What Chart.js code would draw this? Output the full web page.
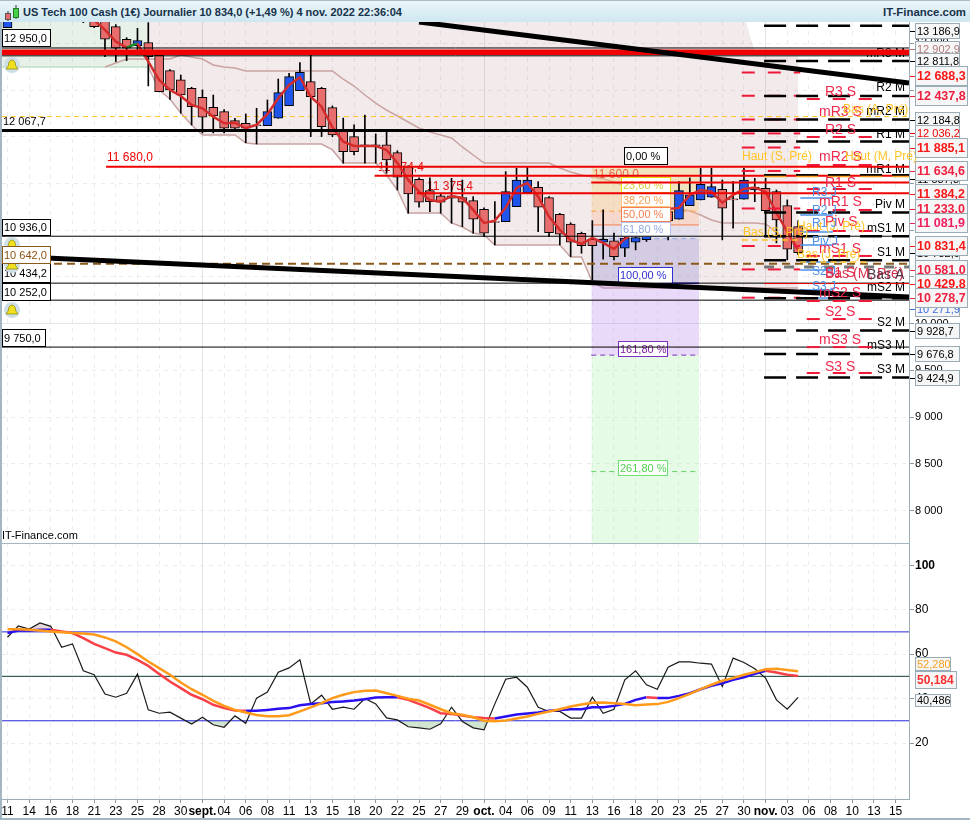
<!DOCTYPE html>
<html>
<head>
<meta charset="utf-8">
<title>US Tech 100 Cash</title>
<script src="https://cdn.jsdelivr.net/npm/chart.js@4/dist/chart.umd.min.js"></script>
<style>
  html, body { margin: 0; padding: 0; background: #fff; }
  #page { position: relative; width: 970px; height: 820px; overflow: hidden; font-family: "Liberation Sans", Arial, sans-serif; }
  #head { position: absolute; left: 0; top: 0; width: 970px; height: 22px; box-sizing: border-box; background: linear-gradient(#eaf5f9, #cfe7f1); border-top: 1px solid #a9bcc7; }
  #title { position: absolute; left: 23px; top: 5px; font-size: 11px; font-weight: bold; color: #17324a; white-space: nowrap; }
  #site { position: absolute; right: 4px; top: 5px; font-size: 11.4px; font-weight: bold; color: #17324a; }
  #icon { position: absolute; left: 2px; top: 2px; }
  canvas { position: absolute; left: 0; }
  #priceCanvas { top: 22px; }
  #rsiCanvas { top: 543px; }
  .frame { position: absolute; background: #a3b6c1; }
</style>
</head>
<body>
<div id="page">
  <canvas id="priceCanvas" width="970" height="521"></canvas>
  <canvas id="rsiCanvas" width="970" height="277"></canvas>
  <div id="head">
    <svg id="icon" width="20" height="19">
      <line x1="6" y1="8" x2="6" y2="18" stroke="#333"/><rect x="3.5" y="10.5" width="5" height="6" fill="#e86a6a" stroke="#555"/>
      <line x1="14" y1="2" x2="14" y2="16" stroke="#333"/><rect x="11.5" y="5.5" width="5" height="9" fill="#45d04a" stroke="#2a7a2a"/>
    </svg>
    <div id="title">US Tech 100 Cash (1€) Journalier 10 834,0 (+1,49 %) 4 nov. 2022 22:36:04</div>
    <div id="site">IT-Finance.com</div>
  </div>
  <div class="frame" style="left:0;top:22px;width:2px;height:798px"></div>
  <div class="frame" style="left:2px;top:543px;width:908px;height:1px"></div>
  <div class="frame" style="left:0;top:818px;width:970px;height:2px"></div>
</div>
<script>
// dates shown on the axis, one every two bars
const tickLabels = ['11','14','16','18','21','23','25','28','30','sept.','04','06','08','11','13','15','18','20','22','25','27','29','oct.','04','06','09','11','13','16','18','20','23','25','27','30','nov.','03','06','08','10','13','15'];
const monthLabels = ['sept.','oct.','nov.'];

const priceTicks = [8000,8500,9000,9500,10000,10500,11000,11500,12000,12500,13000];
const priceTickLabels = ['8 000','8 500','9 000','9 500','10 000','10 500','11 000','11 500','12 000','12 500','13 000'];
const rsiTicks = [20,40,60,80,100];

// daily candles
const barOpen = [13167,13420,13560,13640,13600,13700,13680,13500,13300,13290,13178,13043,12975,13007,12875,12707,12608,12519,12423,12316,12269,12172,12145,12127,12119,12198,12333,12493,12590,12519,12312,12073,12002,11913,11913,11913,11830,11681,11546,11424,11367,11367,11349,11317,11225,11094,11092,11253,11402,11460,11349,11171,11065,10968,10904,10872,10886,10808,10872,10900,11100,11200,11118,11263,11324,11353,11439,11335,11332,11431,11449,11413,11263,11039];
const barClose = [13330,13560,13640,13600,13700,13680,13500,13440,13178,13043,12947,12947,13028,12857,12483,12501,12447,12322,12209,12223,12091,12091,12091,12120,12269,12472,12643,12690,12429,12108,12020,11841,11841,11905,11905,11752,11567,11389,11300,11306,11300,11342,11300,11118,10968,11085,11413,11538,11538,11246,10975,10958,10872,10836,10836,10904,10718,10915,10921,11100,11200,11100,11424,11378,11492,11467,11235,11325,11538,11460,11210,11111,10797,10761];
const barHigh = [13380,13620,13700,13720,13760,13760,13700,13530,13340,13300,13200,13060,13161,13221,12890,12720,12661,12530,12501,12447,12290,12198,12244,12305,12394,12618,12679,12793,12893,12530,12330,12200,12127,12233,12030,12055,11850,11690,11560,11560,11396,11556,11538,11360,11240,11306,11627,11663,11681,11520,11360,11180,11080,10980,11103,11218,10971,11039,11100,11130,11220,11240,11520,11560,11663,11663,11538,11520,11663,11556,11556,11431,11325,11100];
const barLow = [13167,13380,13500,13540,13560,13600,13420,13221,13167,12857,12804,12814,12875,12544,12480,12401,12252,12127,12041,12041,12041,12073,11937,11923,12119,12198,12333,12493,12002,12002,12000,11717,11806,11717,11717,11610,11431,11182,11246,11200,11182,11075,11039,10968,10932,10843,11092,11253,11402,10985,10932,10843,10718,10754,10469,10690,10683,10718,10790,10880,11090,10897,11118,11263,11324,11353,10897,11022,11332,11306,10932,10865,10683,10740];

// moving average drawn over the candles, starts at bar 8
const priceMA = [13250,13143,13018,12953,13000,12804,12608,12501,12437,12340,12305,12215,12145,12151,12091,12127,12241,12412,12554,12637,12429,12322,12100,11948,11902,11902,11902,11859,11720,11538,11413,11324,11306,11367,11346,11218,11078,11103,11239,11453,11506,11360,11146,11004,10897,10854,10918,10865,10800,10907,10982,11111,11196,11228,11239,11378,11431,11413,11295,11378,11442,11456,11413,11185,10985,10790];

// channel, starts at bar 13
const bandTop = [13300,13300,13300,13300,13300,13300,13300,13300,13300,13300,13300,13300,13300,13300,13300,13300,13300,13300,13300,13300,13300,13300,13300,13300,13300,13300,13300,13300,13300,13300,13300,13300,13300,13300,13300,13300,13300,13300,13300,13300,13300,13300,13300,13300,13300,13300,13300,13300,13300,13300,13300,13300,13300,13300,13300,13300,12910,12910,12910,12910,12910];
const bandLow = [12747,12500,12404,12254,12126,12019,12019,12019,12019,11933,11923,11923,11923,11923,11923,11923,11923,11859,11719,11719,11719,11719,11591,11431,11185,11185,11185,11185,11078,11035,10971,10949,10842,10842,10842,10842,10842,10842,10842,10714,10714,10446,10382,10382,10382,10382,10382,10382,10382,10382,10382,10382,10382,10382,10382,10382,10382,10382,10382,10382,10382];
// inner channel line, starts at bar 9
const bandMid = [12747,12789,12832,12832,12832,12832,12832,12875,12854,12832,12768,12747,12736,12704,12704,12704,12704,12704,12704,12704,12704,12704,12618,12543,12447,12361,12286,12222,12158,12094,12051,12019,11987,11891,11805,11719,11719,11719,11719,11719,11719,11719,11666,11623,11591,11570,11548,11516,11473,11409,11345,11281,11238,11227,11206,11163,11110,11078,11078,11078,11078,11067,10981,10885,10821];

// levels
const channelEdge = 12747;
const thinLevels = [12950,12866,10936,10434.2,10252,9750];
const monthlyPivots = [13186.9,12811.8,12436,12184.8,11950,11587.8,11190,10936,10680,10271.9,9928.7,9676.8,9424.9];
const weeklyLeft = [12688.3,12437.8,12184,12036,11885.1,11634.6,11233,10831.4,10581,10278.7];
const weeklyRight = [12404,11998,11698,11441,11217,10992,10725,10243,10050,9750,9473];
const dailyLevels = [11345,11163,10981,10842,10660,10575,10361,10275];

// fibonacci retracement, 0 % to 261,8 %
const fibLevels = [11680,11386,11204,11057,10910,10434,9664,8418,7654];

// RSI panel
const rsiValues = [67.6,72.7,71.3,74.0,72.5,63.1,64.6,52.5,50.7,42.0,40.6,42.4,51.0,34.9,33.4,33.9,31.2,28.5,31.6,28.2,27.1,32.2,28.9,40.2,42.9,51.9,53.8,57.4,37.6,41.5,35.2,36.1,35.2,40.0,37.6,31.3,30.4,27.3,26.8,26.2,28.6,36.1,29.7,26.8,25.9,37.6,48.7,49.6,45.1,36.1,34.2,34.2,31.2,31.2,40.6,33.4,35.2,48.4,52.5,46.2,44.2,54.1,56.5,56.5,55.9,55.5,45.4,58.2,56.2,53.4,49.2,39.4,35.2,40.5];
const rsiAverage = [69.5,70.6,70.6,71.0,71.0,70.2,69.5,67.2,64.6,62.7,60.7,59.7,57.4,54.7,51.1,47.7,44.7,41.7,39.7,37.2,35.7,34.6,34.5,34.5,34.9,35.4,35.7,37.0,37.5,37.9,38.4,38.7,39.1,39.7,40.5,40.6,40.6,39.4,37.6,35.7,33.4,33.0,32.4,31.6,31.2,31.0,31.9,32.8,33.3,33.7,34.5,34.9,35.2,35.2,36.1,36.1,36.7,37.6,39.4,40.6,40.2,40.2,41.2,42.4,44.2,45.7,46.9,48.4,49.6,51.1,52.5,51.7,50.7,50.2];
const rsiSignal = [71.2,71.2,71.0,70.6,70.2,69.8,69.5,69.3,68.8,67.5,65.7,63.1,60.0,56.7,53.7,50.7,47.2,44.2,41.7,39.0,36.7,34.9,33.7,32.6,32.0,32.0,32.5,34.2,36.0,37.9,40.2,41.7,42.9,43.5,43.6,42.4,41.2,39.9,39.1,37.2,35.2,33.4,32.7,31.6,30.0,29.8,30.1,31.0,31.9,33.1,34.2,35.2,36.4,37.3,38.1,38.2,37.9,37.5,37.0,37.3,37.5,38.5,40.2,42.1,44.2,46.2,48.0,49.2,50.7,51.9,53.2,53.4,52.9,52.3];
const rsiLevels = [70,50,30];

const FONT = '"Liberation Sans", Arial, sans-serif';
const X_MIN = -0.508, X_MAX = 83.24;
const PIVOT_START = 69.86, FIB_START = 53.9, FIB_END = 63.85;
const CROSS_RED = '#f0284c';

Chart.defaults.font.family = FONT;
Chart.defaults.font.size = 11;
Chart.defaults.color = '#000';

function seriesFrom(values, first) {
  return values.map((v, k) => ({ x: first + k, y: v }));
}

function levelLine(value, x0, x1, color, width, dash) {
  return { type: 'line', data: [{ x: x0, y: value }, { x: x1, y: value }], borderColor: color, borderWidth: width, borderDash: dash || [], pointRadius: 0, fill: false };
}

function plainLine(points, color, width) {
  return { type: 'line', data: points, borderColor: color, borderWidth: width, pointRadius: 0, fill: false };
}

// the plot has to reach the canvas edge, labels may overhang
function noPadding(s) {
  s.paddingLeft = 0; s.paddingRight = 0; s.paddingTop = 0; s.paddingBottom = 0;
}

function xAxis(height, showLabels) {
  return {
    type: 'linear', min: X_MIN, max: X_MAX, offset: false,
    afterBuildTicks: s => { s.ticks = tickLabels.map((t, k) => ({ value: k * 2 })); },
    afterFit: s => { s.height = height; noPadding(s); },
    grid: { offset: false, color: ctx => (ctx.tick && monthLabels.includes(tickLabels[ctx.tick.value / 2])) ? '#e2e4e6' : '#ececec', tickColor: '#8a9aa4', tickLength: 4, drawTicks: showLabels },
    border: { display: showLabels, color: '#9aacb6', dash: ctx => (ctx.tick && monthLabels.includes(tickLabels[ctx.tick.value / 2])) ? [] : [4, 5] },
    ticks: {
      display: showLabels, autoSkip: false, maxRotation: 0, padding: 1, color: '#000',
      font: ctx => ({ family: FONT, size: 12, weight: (ctx.tick && monthLabels.includes(tickLabels[ctx.tick.value / 2])) ? 'bold' : 'normal' }),
      callback: (v, k) => tickLabels[k]
    }
  };
}

function boxLabel(ctx, text, x, y, w, h, border, color, font, bg) {
  ctx.fillStyle = bg || '#fff';
  ctx.fillRect(x, y, w, h);
  ctx.strokeStyle = border;
  ctx.lineWidth = 1;
  ctx.strokeRect(x + 0.5, y + 0.5, w - 1, h - 1);
  ctx.fillStyle = color;
  ctx.font = font;
  ctx.textAlign = 'left';
  ctx.textBaseline = 'middle';
  ctx.fillText(text, x + 2, y + h / 2 + 0.5);
}

function note(ctx, row, top) {
  ctx.fillStyle = row[3];
  ctx.font = row[4];
  ctx.textAlign = row[5] || 'left';
  ctx.textBaseline = 'middle';
  ctx.fillText(row[0], row[1], row[2] - top);
}

function bell(ctx, cx, cy) {
  ctx.beginPath(); ctx.arc(cx, cy, 8, 0, Math.PI * 2); ctx.fillStyle = '#cfdfe8'; ctx.fill();
  ctx.beginPath();
  ctx.moveTo(cx - 6, cy + 4); ctx.lineTo(cx + 6, cy + 4);
  ctx.quadraticCurveTo(cx + 3, cy + 1, cx + 3, cy - 3);
  ctx.quadraticCurveTo(cx, cy - 7, cx - 3, cy - 3);
  ctx.quadraticCurveTo(cx - 3, cy + 1, cx - 6, cy + 4);
  ctx.fillStyle = '#f0e020'; ctx.fill();
  ctx.strokeStyle = '#8a8400'; ctx.lineWidth = 0.7; ctx.stroke();
}

const TOP = 22;
const small = '11px ' + FONT, text12 = '12px ' + FONT, text14 = '14px ' + FONT, boldBox = 'bold 12.5px ' + FONT;
const gold = '#ffc425', sky = '#4a90e8';

// texts that lie under the candles and the lines
const underNotes = [
  ['11 680,0', 107, 158, '#f00000', text12], ['11 574,4', 378, 168, '#f00000', text12],
  ['11 375,4', 427, 187, '#f00000', text12], ['11 600,0', 593, 175, '#f00000', text12],
  ['mR3 M', 905, 54, '#000', text12, 'right'], ['R2 M', 905, 88, '#000', text12, 'right'],
  ['mR2 M', 905, 112, '#000', text12, 'right'], ['R1 M', 905, 135, '#000', text12, 'right'],
  ['mR1 M', 905, 170, '#000', text12, 'right'], ['Piv M', 905, 205, '#000', text12, 'right'],
  ['mS1 M', 905, 229, '#000', text12, 'right'], ['S1 M', 905, 253, '#000', text12, 'right'],
  ['mS2 M', 905, 288, '#000', text12, 'right'], ['S2 M', 905, 323, '#000', text12, 'right'],
  ['mS3 M', 905, 346, '#000', text12, 'right'], ['S3 M', 905, 370, '#000', text12, 'right']
];
// fibonacci tags, they cover the candles but not the levels
const fibTags = [
  ['0,00 %', 624, 147, 44, 18, '#000', '#000'], ['23,60 %', 621, 177, 50, 16, '#e8e000', '#dcc840'],
  ['38,20 %', 621, 193, 50, 14, '#ffc080', '#f5a050'], ['50,00 %', 621, 207, 50, 15, '#f58050', '#f08050'],
  ['61,80 %', 621, 222, 50, 15, '#b0c4f0', '#90a8e0'], ['100,00 %', 618, 267, 55, 17, '#3030d0', '#3030d0'],
  ['161,80 %', 618, 341, 50, 16, '#8030c0', '#8020a0'], ['261,80 %', 618, 460, 50, 16, '#70e070', '#50d050']
];
const overNotes = [
  ['R3 S', 825, 92, CROSS_RED, text14], ['mR3 S', 819, 112, CROSS_RED, text14], ['R2 S', 825, 130, CROSS_RED, text14],
  ['mR2 S', 819, 157, CROSS_RED, text14], ['R1 S', 825, 183, CROSS_RED, text14], ['mR1 S', 819, 202, CROSS_RED, text14],
  ['Piv S', 825, 222, CROSS_RED, text14], ['mS1 S', 819, 249, CROSS_RED, text14], ['S1 S', 825, 273, CROSS_RED, text14],
  ['mS2 S', 819, 293, CROSS_RED, text14], ['S2 S', 825, 312, CROSS_RED, text14], ['mS3 S', 819, 340, CROSS_RED, text14],
  ['S3 S', 825, 367, CROSS_RED, text14], ['Bas (A, Pré)', 843, 110, gold, text12], ['Haut (S, Pré)', 742, 157, gold, text12],
  ['Haut (M, Pré)', 845, 157, gold, text12], ['Bas (S, Pré)', 743, 233, gold, text12], ['Haut (J, Pré)', 797, 227, gold, text12],
  ['Bas (J, Pré)', 797, 255, gold, text12], ['R3 J', 812, 193, sky, text12], ['R2 J', 812, 211, sky, text12],
  ['R1 J', 812, 224, sky, text12], ['Piv J', 812, 242, sky, text12], ['S2 J', 812, 272, sky, text12], ['S3 J', 812, 287, sky, text12],
  ['Bas (M, Pré)', 825, 274, '#d8304c', text14], ['Bas A', 867, 275, '#553344', text14],
  ['12 067,7', 3, 122, '#000', small], ['IT-Finance.com', 2, 536, '#000', small]
];
const leftBoxes = [
  ['12 950,0', 2, 29, 49, 18], ['10 936,0', 2, 219, 49, 17], ['10 434,2', 2, 263, 49, 20],
  ['10 252,0', 2, 283, 49, 18], ['9 750,0', 2, 329, 44, 18]
];
const alertBells = [[12, 65], [12, 245], [12, 265], [12, 310]];
// price tags on the right, later ones lie on top
const rightTags = [
  ['13 186,9', 31, '#000', 0], ['12 902,9', 49, '#b07878', 0], ['12 811,8', 61, '#000', 0], ['12 184,8', 120, '#000', 0],
  ['12 036,2', 133, '#f00000', 0], ['11 587,8', 179, '#000', 0], ['10 732,9', 253, '#000', 0], ['10 271,9', 309, '#3a70e0', 0],
  ['9 928,7', 331, '#000', 0], ['9 676,8', 354, '#000', 0], ['9 424,9', 378, '#000', 0],
  ['12 688,3', 76, '#f81818', 1], ['12 437,8', 96, '#f02040', 1], ['11 885,1', 148, '#f81818', 1], ['11 634,6', 171, '#f02040', 1],
  ['11 384,2', 194, '#f81818', 1], ['11 233,0', 209, '#f02040', 1], ['11 081,9', 223, '#f02060', 1], ['10 831,4', 246, '#f81818', 1],
  ['10 581,0', 270, '#f02040', 1], ['10 429,8', 284, '#f81818', 1], ['10 278,7', 298, '#f02040', 1]
];

const priceNotes = {
  id: 'priceNotes',
  beforeDatasetsDraw(chart) {
    underNotes.forEach(r => note(chart.ctx, r, TOP));
  },
  afterDatasetDraw(chart, args) {
    if (chart.data.datasets[args.index].label !== 'priceMA') return;
    const ctx = chart.ctx;
    fibTags.forEach(f => boxLabel(ctx, f[0], f[1], f[2] - TOP, f[3], f[4], f[5], f[6], small));
  },
  afterDraw(chart) {
    const ctx = chart.ctx;
    overNotes.forEach(r => note(ctx, r, TOP));
    leftBoxes.forEach(b => boxLabel(ctx, b[0], b[1], b[2] - TOP, b[3], b[4], '#000', '#000', small));
    alertBells.forEach(b => bell(ctx, b[0], b[1] - TOP));
    boxLabel(ctx, '10 642,0', 2, 246 - TOP, 49, 18, '#8a5a1a', '#8a5010', small);
    rightTags.forEach(t => {
      const big = t[3] === 1, h = big ? 20 : 16, w = big ? 53 : 45;
      boxLabel(ctx, t[0], 915, t[1] - h / 2 - TOP, w, h, '#9aacb6', t[2], big ? boldBox : small, '#f6f6f6');
      ctx.fillStyle = t[2];
      ctx.fillRect(910, t[1] - TOP, 5, 1);
    });
  }
};

const priceSets = [];
// shaded zones first so that everything else lies above
priceSets.push({ type: 'line', data: seriesFrom([13300, 13300], 0).map((p, k) => ({ x: k ? 13 : X_MIN, y: p.y })), borderWidth: 0, pointRadius: 0, fill: { target: { value: channelEdge }, above: 'rgba(120,180,120,0.18)' } });
priceSets.push(levelLine(channelEdge, X_MIN, 13, '#c3dcc3', 1.5));
priceSets.push({ type: 'line', data: seriesFrom(bandTop, 13), borderWidth: 0, pointRadius: 0, fill: '+1', backgroundColor: 'rgba(170,115,115,0.14)' });
priceSets.push(plainLine(seriesFrom(bandLow, 13), '#c9a2a2', 1.5));
priceSets.push(plainLine(seriesFrom(bandMid, 9), '#c9a2a2', 1.5));

const fibFills = ['rgba(240,215,130,0.42)', 'rgba(250,200,130,0.38)', 'rgba(250,190,160,0.42)', 'rgba(210,210,235,0.45)', 'rgba(170,160,215,0.42)', 'rgba(190,140,235,0.32)', 'rgba(160,240,160,0.28)', 'rgba(160,240,160,0.28)'];
fibLevels.slice(0, -1).forEach((lvl, k) => {
  priceSets.push({ type: 'line', data: [{ x: FIB_START, y: lvl }, { x: FIB_END, y: lvl }], borderWidth: 0, pointRadius: 0, fill: { target: { value: fibLevels[k + 1] }, above: fibFills[k] } });
});
priceSets.push(levelLine(fibLevels[2], FIB_START, FIB_END, '#ffa040', 1, [5, 4]));
priceSets.push(levelLine(fibLevels[3], FIB_START, FIB_END, '#f58050', 1));
priceSets.push(levelLine(fibLevels[4], FIB_START, FIB_END, '#90a8e0', 1, [5, 4]));
priceSets.push(levelLine(fibLevels[5], FIB_START, FIB_END, '#3030d0', 1.5));
priceSets.push(levelLine(fibLevels[6], FIB_START, FIB_END, '#8030c0', 1, [5, 4]));
priceSets.push(levelLine(fibLevels[7], FIB_START, FIB_END, '#60d860', 1, [5, 4]));
priceSets.push(levelLine(12216, X_MIN, X_MAX, '#ffc425', 1, [5, 4]));

// candles
priceSets.push({ type: 'bar', data: barLow.map((v, k) => ({ x: k, y: [v, barHigh[k]] })), backgroundColor: '#000', barThickness: 1, grouped: false });
priceSets.push({
  type: 'bar', data: barOpen.map((v, k) => ({ x: k, y: [v, barClose[k]] })),
  backgroundColor: ctx => barClose[ctx.dataIndex] > barOpen[ctx.dataIndex] ? '#1f55ea' : '#e86e6e',
  borderColor: '#000', borderWidth: 1, borderSkipped: false, barThickness: 9, grouped: false
});
priceSets.push({
  label: 'priceMA', type: 'line', data: seriesFrom(priceMA, 8), borderWidth: 2.5, pointRadius: 0, fill: false, borderColor: '#d42c2c',
  segment: { borderColor: ctx => ctx.p0.parsed.x === 11 ? '#1a8a2a' : '#d42c2c' }
});

// horizontal levels
thinLevels.forEach(v => priceSets.push(levelLine(v, X_MIN, X_MAX, '#000', 1)));
priceSets.push(levelLine(12905, X_MIN, X_MAX, '#f00000', 5.5));
priceSets.push(levelLine(12067.7, X_MIN, X_MAX, '#000', 3));
priceSets.push(levelLine(11680, 9.1, X_MAX, '#f00000', 2));
priceSets.push(levelLine(11584, 33.9, X_MAX, '#f00000', 2));
priceSets.push(levelLine(11510, 53.9, X_MAX, '#f00000', 2));
priceSets.push(levelLine(11396, 37.8, X_MAX, '#f00000', 2));
priceSets.push(levelLine(10642, X_MIN, X_MAX, '#8a5a1a', 2, [8, 5]));

// pivots, right side
weeklyLeft.forEach(v => priceSets.push(levelLine(v, 67.8, 73.2, '#f01838', 2, [13, 13])));
weeklyRight.forEach(v => priceSets.push(levelLine(v, 73.8, 79.9, '#f01838', 2, [13, 13])));
dailyLevels.forEach(v => priceSets.push(levelLine(v, 73.2, 76.2, '#4a90e8', 1.5)));
monthlyPivots.forEach(v => priceSets.push(levelLine(v, PIVOT_START, X_MAX, '#000', 2.5, [22, 10])));
priceSets.push(levelLine(11575, PIVOT_START, X_MAX, '#ffa020', 1.5, [22, 10]));
priceSets.push(levelLine(10607, PIVOT_START, X_MAX, '#777', 3, [10, 10]));
priceSets.push(levelLine(10429.8, PIVOT_START, X_MAX, '#f00000', 1));
priceSets.push(levelLine(10895, 67.8, 73.2, gold, 1.5, [6, 4]));
priceSets.push(levelLine(10660, 73.2, 79.5, gold, 1.5, [6, 4]));

// sloping trend lines
priceSets.push(plainLine([{ x: 38, y: 13228 }, { x: X_MAX, y: 12576 }], '#000', 5));
priceSets.push(plainLine([{ x: X_MIN, y: 10725 }, { x: X_MAX, y: 10287 }], '#000', 5));

priceSets.forEach((d, k) => { d.order = priceSets.length - k; d.tension = 0; });

new Chart(document.getElementById('priceCanvas'), {
  type: 'line',
  data: { datasets: priceSets },
  plugins: [priceNotes],
  options: {
    responsive: false, animation: false, devicePixelRatio: 1, parsing: true,
    layout: { padding: { left: 2, right: 0, top: 0, bottom: 0 } },
    plugins: { legend: { display: false }, tooltip: { enabled: false } },
    scales: {
      x: xAxis(0, false),
      y: {
        position: 'right', min: 7654, max: 13228,
        afterBuildTicks: s => { s.ticks = priceTicks.map(v => ({ value: v })); },
        afterFit: s => { s.width = 61; noPadding(s); },
        grid: { color: ctx => ctx.tick && ctx.tick.value === 10000 ? '#e2e4e6' : '#ececec', tickColor: '#8a9aa4', tickLength: 5 },
        border: { color: '#9aacb6', dash: ctx => ctx.tick && ctx.tick.value === 10000 ? [] : [4, 5] },
        ticks: { padding: 1, color: '#000', font: { family: FONT, size: 11 }, callback: (v, k) => priceTickLabels[k] }
      }
    }
  }
});

const rsiNotes = {
  id: 'rsiNotes',
  afterDraw(chart) {
    const ctx = chart.ctx, off = 543;
    boxLabel(ctx, '52,280', 915, 657 - off, 36, 14, '#9aacb6', '#f5a020', small, '#f6f6f6');
    boxLabel(ctx, '40,486', 915, 694 - off, 36, 13, '#9aacb6', '#000', small, '#f6f6f6');
    boxLabel(ctx, '50,184', 915, 671 - off, 42, 18, '#9aacb6', '#f83030', 'bold 12px ' + FONT, '#f6f6f6');
  }
};

const rsiSets = [];
rsiSets.push({ type: 'line', data: seriesFrom(rsiValues, 0), borderWidth: 0, pointRadius: 0, fill: { target: { value: 70 }, above: 'rgba(170,110,110,0.28)', below: 'rgba(0,0,0,0)' } });
rsiSets.push({ type: 'line', data: seriesFrom(rsiValues, 0), borderWidth: 0, pointRadius: 0, fill: { target: { value: 30 }, above: 'rgba(0,0,0,0)', below: 'rgba(90,160,90,0.28)' } });
rsiLevels.forEach(v => rsiSets.push(levelLine(v, X_MIN, X_MAX, v === 50 ? '#0c3a34' : '#2828d8', 1)));
rsiSets.push(plainLine(seriesFrom(rsiValues, 0), '#1a1a1a', 1.2));
rsiSets.push({
  type: 'line', data: seriesFrom(rsiAverage, 0), borderWidth: 2.5, pointRadius: 0, fill: false, borderColor: '#2a10f0',
  segment: { borderColor: ctx => ctx.p1.parsed.y >= ctx.p0.parsed.y ? '#2a10f0' : '#f84048' }
});
rsiSets.push(plainLine(seriesFrom(rsiSignal, 0), '#ff9a1a', 2.5));
rsiSets.forEach((d, k) => { d.order = rsiSets.length - k; d.tension = 0; });

new Chart(document.getElementById('rsiCanvas'), {
  type: 'line',
  data: { datasets: rsiSets },
  plugins: [rsiNotes],
  options: {
    responsive: false, animation: false, devicePixelRatio: 1,
    layout: { padding: { left: 2, right: 0, top: 0, bottom: 0 } },
    plugins: { legend: { display: false }, tooltip: { enabled: false } },
    scales: {
      x: xAxis(21, true),
      y: {
        position: 'right', min: -5.2, max: 110,
        afterBuildTicks: s => { s.ticks = rsiTicks.map(v => ({ value: v })); },
        afterFit: s => { s.width = 61; noPadding(s); },
        grid: { color: '#ececec', tickColor: '#8a9aa4', tickLength: 5 },
        border: { color: '#9aacb6', dash: [4, 5] },
        ticks: {
          padding: 1, color: '#000',
          font: ctx => ({ family: FONT, size: 12, weight: ctx.tick && ctx.tick.value === 100 ? 'bold' : 'normal' }),
          callback: v => String(v)
        }
      }
    }
  }
});
</script>
</body>
</html>
